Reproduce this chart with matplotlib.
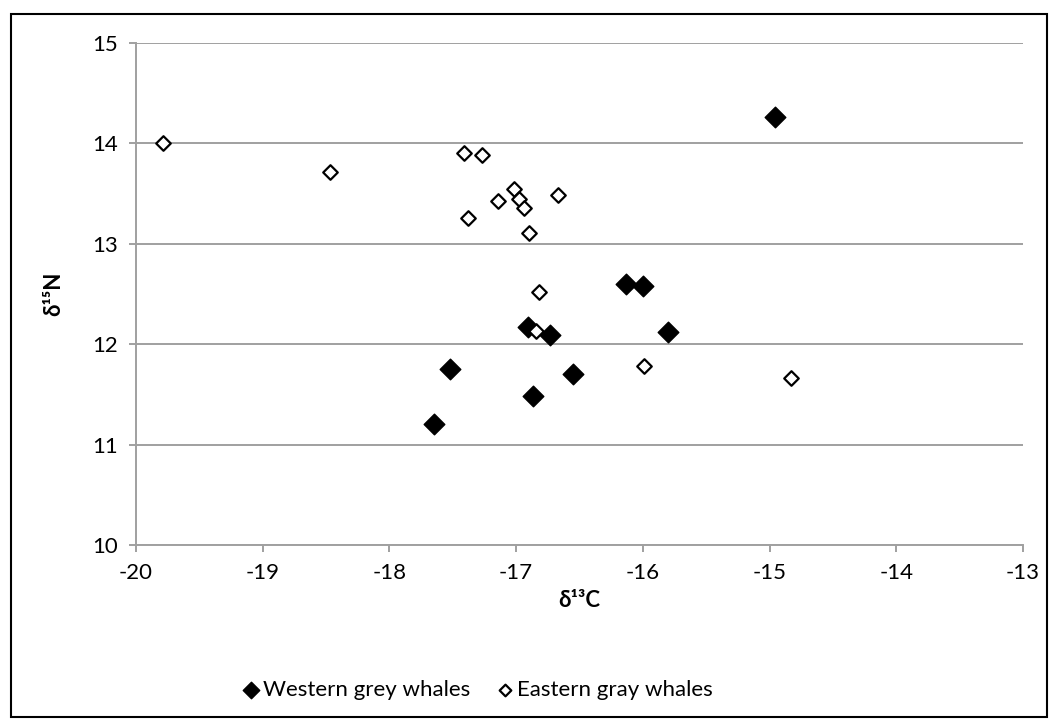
import matplotlib.pyplot as plt
from matplotlib.patches import Rectangle

#### -------- データ -------- ####
# Western grey whales (filled)
west_c = [-14.96, -16.13, -16.00, -15.80, -16.91, -16.73, -17.52, -16.55, -16.87, -17.65]
west_n = [14.26, 12.60, 12.58, 12.12, 12.17, 12.09, 11.75, 11.70, 11.48, 11.21]

# Eastern gray whales (open)
east_c = [-19.79, -18.47, -17.41, -17.27, -17.38, -17.02, -16.98, -16.94, -17.14,
          -16.67, -16.90, -16.82, -16.84, -15.99, -14.83]
east_n = [14.00, 13.72, 13.90, 13.88, 13.26, 13.55, 13.45, 13.36, 13.43,
          13.49, 13.11, 12.52, 12.13, 11.78, 11.66]

x_ticks = [-20, -19, -18, -17, -16, -15, -14, -13]
y_ticks = [10, 11, 12, 13, 14, 15]

#### -------- グラフ設定 -------- ####
plt.rcParams["font.family"] = ["Lato", "DejaVu Sans"]
plt.rcParams["font.size"] = 16
plt.rcParams["axes.unicode_minus"] = False

fig = plt.figure(figsize=(10.58, 7.28), dpi=100)
ax = fig.add_axes([0.1285, 0.2514, 0.8384, 0.6895])

ax.scatter(west_c, west_n, marker="D", s=110, color="black", zorder=3,
           label="Western grey whales")
ax.scatter(east_c, east_n, marker="D", s=55, facecolor="white", edgecolor="black",
           linewidths=1.6, zorder=3, label="Eastern gray whales")

ax.set_xlim(-20, -13)
ax.set_ylim(10, 15)
ax.set_xticks(x_ticks)
ax.set_yticks(y_ticks)
ax.grid(axis="y", color="#A0A0A0", lw=1.4)
ax.set_axisbelow(True)

for s in ["top", "right"]:
    ax.spines[s].set_visible(False)
for s in ["left", "bottom"]:
    ax.spines[s].set_color("#A0A0A0")
    ax.spines[s].set_linewidth(1.4)
ax.tick_params(direction="out", length=5, width=1.4, color="#A0A0A0",
               labelsize=16, pad=8)

ax.set_xlabel("δ¹³C", fontweight="bold", fontsize=16, labelpad=5)
ax.set_ylabel("δ¹⁵N", fontweight="bold", fontsize=16, labelpad=20)

leg = fig.legend(loc="center", bbox_to_anchor=(477 / 1058, 1 - 690 / 728), ncol=2,
                 frameon=False, fontsize=16, handletextpad=0.1, columnspacing=1.1,
                 handlelength=0.9, markerscale=0.8)

# 外枠
fig.patches.append(Rectangle((11 / 1058, 1 - 717 / 728), 1036 / 1058, 703 / 728,
                             transform=fig.transFigure, fill=False,
                             edgecolor="black", lw=1.5))

fig.savefig("out.png", dpi=100)
